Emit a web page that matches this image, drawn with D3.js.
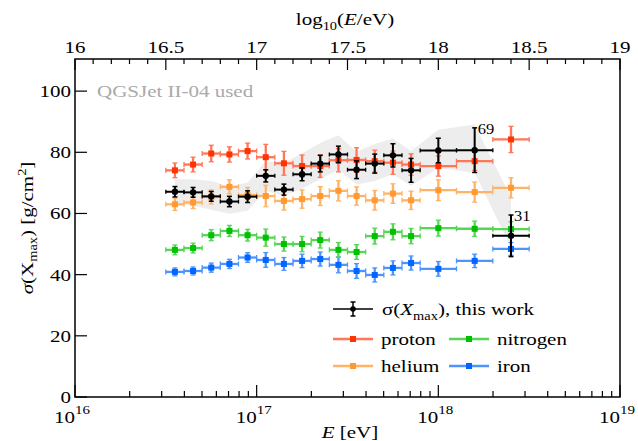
<!DOCTYPE html>
<html>
<head>
<meta charset="utf-8">
<script src="https://cdn.jsdelivr.net/npm/d3@7"></script>
<style>
  html, body { margin: 0; padding: 0; background: #fff; }
  svg text { font-family: "Liberation Serif", "Times New Roman", serif; }
</style>
</head>
<body>
<svg id="chart" width="638" height="441"></svg>
<script>
// ---- energy bins (log10 E/eV) ----
const binLow  = [16.5, 16.6, 16.7, 16.8, 16.9, 17.0, 17.1, 17.2, 17.3, 17.4, 17.5, 17.6, 17.7, 17.8, 17.9, 18.1, 18.3];
const binHigh = [16.6, 16.7, 16.8, 16.9, 17.0, 17.1, 17.2, 17.3, 17.4, 17.5, 17.6, 17.7, 17.8, 17.9, 18.1, 18.3, 18.5];

// ---- measured sigma(Xmax) [g/cm^2] ----
const dataSigma = [67.1, 66.9, 65.6, 63.9, 65.5, 72.3, 67.8, 72.8, 76.3, 79.3, 74.3, 76.3, 79.0, 74.1, 80.6, 80.7, 52.7];
const dataStat  = [1.7, 1.6, 1.6, 1.7, 1.9, 2.0, 1.8, 2.1, 2.7, 2.7, 2.9, 3.1, 3.8, 3.9, 4.0, 7.3, 6.8];
// systematic band edges
const sysUpper  = [71.2, 71.2, 70.6, 68.7, 70.1, 77.1, 76.5, 79.7, 83.0, 85.6, 80.2, 82.7, 84.5, 80.4, 87.4, 89.1, 65.2];
const sysLower  = [63.1, 62.5, 61.2, 59.9, 60.9, 67.4, 65.7, 68.2, 71.2, 74.4, 69.5, 70.6, 72.8, 69.0, 74.9, 73.3, 48.9];
// event counts quoted in the last bins
const countBins   = [15, 16];
const countLabels = ["69", "31"];

// ---- simulated primaries ----
const protonSigma   = [74.1, 76.0, 79.6, 79.3, 80.4, 78.4, 76.4, 75.5, 75.5, 77.4, 77.5, 77.1, 76.6, 76.0, 75.5, 77.1, 84.2];
const protonErr     = [2.4, 2.4, 2.7, 2.5, 2.6, 4.2, 3.9, 3.6, 3.7, 3.8, 4.0, 3.6, 3.8, 3.5, 3.3, 3.0, 4.3];
const heliumSigma   = [63.0, 63.6, 65.4, 68.7, 66.0, 65.7, 64.1, 64.7, 65.7, 67.4, 65.7, 64.3, 66.5, 64.3, 67.6, 67.0, 68.4];
const heliumErr     = [2.0, 2.0, 2.3, 2.3, 2.5, 3.5, 3.0, 3.0, 3.1, 3.3, 3.0, 3.2, 3.2, 3.0, 3.4, 3.3, 3.3];
const nitrogenSigma = [48.1, 48.7, 52.9, 54.3, 52.9, 52.1, 50.0, 50.0, 51.3, 48.1, 47.4, 52.6, 54.0, 52.6, 55.2, 55.0, 54.9];
const nitrogenErr   = [1.6, 1.6, 1.8, 1.8, 1.9, 2.8, 2.3, 2.5, 2.6, 2.4, 2.4, 2.6, 2.6, 2.5, 2.6, 2.5, 2.4];
const ironSigma     = [40.9, 41.2, 42.3, 43.5, 45.6, 44.8, 43.5, 44.5, 45.1, 43.2, 41.2, 39.9, 42.2, 43.8, 41.9, 44.5, 48.4];
const ironErr       = [1.3, 1.3, 1.5, 1.5, 1.6, 2.4, 2.1, 2.2, 2.3, 2.6, 2.4, 2.3, 2.3, 2.3, 2.4, 2.2, 2.1];

// ---- axes ----
const yTicks     = [0, 20, 40, 60, 80, 100];
const topTicks   = [16, 16.5, 17, 17.5, 18, 18.5, 19];
const bottomExps = [16, 17, 18, 19];

const W = 638, H = 441;
const plot = { left: 75, right: 620, top: 59, bottom: 397 };
const svg = d3.select("#chart");

const x = d3.scaleLog().domain([1e16, 1e19]).range([plot.left, plot.right]);
const xTop = d3.scaleLinear().domain([16, 19]).range([plot.left, plot.right]);
const y = d3.scaleLinear().domain([0, 110.5]).range([plot.bottom, plot.top]);

const lgX = v => x(Math.pow(10, v));
const centers = binLow.map((lo, i) => (lo + binHigh[i]) / 2);

// text helper: serif face drawn slightly wide
const SX = 1.2;
function label(parent, px, py, anchor, size, opts = {}) {
  const g = parent.append("g")
    .attr("transform", `translate(${px},${py})` + (opts.rotate ? ` rotate(${opts.rotate})` : "") + ` scale(${SX},1)`);
  const t = g.append("text")
    .attr("text-anchor", anchor)
    .attr("font-size", size)
    .attr("fill", opts.fill || "#000");
  return t;
}

// ---- systematic band ----
const band = d3.area()
  .x((d, i) => lgX(centers[i]))
  .y0((d, i) => y(sysLower[i]))
  .y1((d, i) => y(sysUpper[i]));
svg.append("path")
  .datum(centers)
  .attr("d", band)
  .attr("fill", "#ededed");

// ---- model series with bin-width bars and stat errors ----
function drawModel(vals, errs, marker, light) {
  const g = svg.append("g");
  vals.forEach((v, i) => {
    const cx = lgX(centers[i]), cy = y(v);
    const x0 = lgX(binLow[i]), x1 = lgX(binHigh[i]);
    const yt = y(v + errs[i]), yb = y(v - errs[i]);
    g.append("line").attr("x1", x0).attr("x2", x1).attr("y1", cy).attr("y2", cy)
      .attr("stroke", light).attr("stroke-width", 2.3);
    [x0, x1].forEach(xx => g.append("line").attr("x1", xx).attr("x2", xx)
      .attr("y1", cy - 2.5).attr("y2", cy + 2.5).attr("stroke", light).attr("stroke-width", 1.3));
    g.append("line").attr("x1", cx).attr("x2", cx).attr("y1", yt).attr("y2", yb)
      .attr("stroke", light).attr("stroke-width", 2.3);
    [yt, yb].forEach(yy => g.append("line").attr("x1", cx - 2.5).attr("x2", cx + 2.5)
      .attr("y1", yy).attr("y2", yy).attr("stroke", light).attr("stroke-width", 1.3));
    g.append("rect").attr("x", cx - 3).attr("y", cy - 3).attr("width", 6).attr("height", 6)
      .attr("fill", marker);
  });
}

const models = [
  { name: "proton",   vals: protonSigma,   errs: protonErr,   marker: "#ff3300", light: "#ff7758" },
  { name: "helium",   vals: heliumSigma,   errs: heliumErr,   marker: "#ff9933", light: "#ffb366" },
  { name: "nitrogen", vals: nitrogenSigma, errs: nitrogenErr, marker: "#00c000", light: "#55d655" },
  { name: "iron",     vals: ironSigma,     errs: ironErr,     marker: "#0066ff", light: "#4d94ff" }
];
[models[3], models[2], models[1], models[0]].forEach(m => drawModel(m.vals, m.errs, m.marker, m.light));

// ---- measured points ----
const gd = svg.append("g");
dataSigma.forEach((v, i) => {
  const cx = lgX(centers[i]), cy = y(v);
  const x0 = lgX(binLow[i]), x1 = lgX(binHigh[i]);
  const yt = y(v + dataStat[i]), yb = y(v - dataStat[i]);
  gd.append("line").attr("x1", x0).attr("x2", x1).attr("y1", cy).attr("y2", cy)
    .attr("stroke", "#000").attr("stroke-width", 2);
  [x0, x1].forEach(xx => gd.append("line").attr("x1", xx).attr("x2", xx)
    .attr("y1", cy - 2).attr("y2", cy + 2).attr("stroke", "#000").attr("stroke-width", 1.3));
  gd.append("line").attr("x1", cx).attr("x2", cx).attr("y1", yt).attr("y2", yb)
    .attr("stroke", "#000").attr("stroke-width", 2);
  [yt, yb].forEach(yy => gd.append("line").attr("x1", cx - 2.5).attr("x2", cx + 2.5)
    .attr("y1", yy).attr("y2", yy).attr("stroke", "#000").attr("stroke-width", 1.5));
  gd.append("circle").attr("cx", cx).attr("cy", cy).attr("r", 3.2).attr("fill", "#000");
});
countBins.forEach((b, k) => {
  const cx = lgX(centers[b]);
  const yt = y(dataSigma[b] + dataStat[b]);
  svg.append("text").attr("x", cx + 3).attr("y", yt + 6.5)
    .attr("font-size", 15).attr("text-anchor", "start")
    .attr("transform", `translate(${(cx + 3) * (1 - 1.1)},0) scale(1.1,1)`)
    .text(countLabels[k]);
});

// ---- frame ----
const axisG = svg.append("g").attr("stroke", "#000").attr("fill", "none");
axisG.append("rect")
  .attr("x", plot.left).attr("y", plot.top)
  .attr("width", plot.right - plot.left).attr("height", plot.bottom - plot.top)
  .attr("stroke-width", 1.5);

// left ticks
yTicks.forEach(t => {
  axisG.append("line").attr("x1", plot.left).attr("x2", plot.left + 12)
    .attr("y1", y(t)).attr("y2", y(t)).attr("stroke-width", 1.2);
  label(svg, plot.left - 4, y(t) + 6, "end", 17.5).text(t);
});

// bottom ticks: decades and minor multiples
bottomExps.forEach((e, k) => {
  axisG.append("line").attr("x1", x(10 ** e)).attr("x2", x(10 ** e))
    .attr("y1", plot.bottom).attr("y2", plot.bottom - 12).attr("stroke-width", 1.2);
  if (k < bottomExps.length - 1) {
    for (let m = 2; m <= 9; m++) {
      const xx = x(m * 10 ** e);
      axisG.append("line").attr("x1", xx).attr("x2", xx)
        .attr("y1", plot.bottom).attr("y2", plot.bottom - 6).attr("stroke-width", 1.2);
    }
  }
  const tx = x(10 ** e);
  label(svg, tx, 423, "end", 17.5).text("10");
  label(svg, tx, 414, "start", 12.5).text(e);
});

// top ticks (log10 E)
for (let v = 16; v <= 19.0001; v += 0.1) {
  const vv = Math.round(v * 10) / 10;
  const major = Math.abs(vv * 2 - Math.round(vv * 2)) < 1e-6;
  axisG.append("line").attr("x1", xTop(vv)).attr("x2", xTop(vv))
    .attr("y1", plot.top).attr("y2", plot.top + (major ? 11 : 5)).attr("stroke-width", 1.2);
}
topTicks.forEach(t => {
  label(svg, xTop(t), 53, "middle", 17.5).text(t);
});

// axis titles
const tTop = label(svg, 345, 25, "middle", 17.5);
tTop.append("tspan").text("log");
tTop.append("tspan").attr("font-size", 12).attr("dy", 5).text("10");
tTop.append("tspan").attr("dy", -5).text("(");
tTop.append("tspan").attr("font-style", "italic").text("E");
tTop.append("tspan").text("/eV)");

const tBot = label(svg, 350, 438, "middle", 17.5);
tBot.append("tspan").attr("font-style", "italic").text("E");
tBot.append("tspan").text(" [eV]");

const tY = label(svg, 33, 228, "middle", 17.5, { rotate: -90 });
tY.append("tspan").attr("font-style", "italic").text("σ");
tY.append("tspan").text("(X");
tY.append("tspan").attr("font-size", 12).attr("dy", 4).text("max");
tY.append("tspan").attr("dy", -4).text(") [g/cm");
tY.append("tspan").attr("font-size", 12).attr("dy", -7).text("2");
tY.append("tspan").attr("dy", 7).text("]");

// model tag
label(svg, 97, 97, "start", 17.5, { fill: "#aaaaaa" }).text("QGSJet II-04 used");

// ---- legend ----
const lg = svg.append("g");
(function () {
  const yy = 309, xa = 333, xb = 373, xc = (xa + xb) / 2;
  lg.append("line").attr("x1", xa).attr("x2", xb).attr("y1", yy).attr("y2", yy)
    .attr("stroke", "#000").attr("stroke-width", 1.5);
  lg.append("line").attr("x1", xc).attr("x2", xc).attr("y1", yy - 7).attr("y2", yy + 7)
    .attr("stroke", "#000").attr("stroke-width", 1.5);
  [yy - 7, yy + 7].forEach(v => lg.append("line").attr("x1", xc - 2.5).attr("x2", xc + 2.5)
    .attr("y1", v).attr("y2", v).attr("stroke", "#000").attr("stroke-width", 1.5));
  lg.append("circle").attr("cx", xc).attr("cy", yy).attr("r", 2.8).attr("fill", "#000");
  const t = label(lg, 382, yy + 6, "start", 17.5);
  t.append("tspan").text("σ(");
  t.append("tspan").attr("font-style", "italic").text("X");
  t.append("tspan").attr("font-size", 12).attr("dy", 5).text("max");
  t.append("tspan").attr("dy", -5).text("), this work");
})();
const legendSlots = [
  { m: models[0], x: 333, y: 339 },
  { m: models[2], x: 449, y: 339 },
  { m: models[1], x: 333, y: 366 },
  { m: models[3], x: 449, y: 366 }
];
legendSlots.forEach(s => {
  lg.append("line").attr("x1", s.x).attr("x2", s.x + 40).attr("y1", s.y).attr("y2", s.y)
    .attr("stroke", s.m.light).attr("stroke-width", 2.3);
  lg.append("rect").attr("x", s.x + 17).attr("y", s.y - 3).attr("width", 6).attr("height", 6)
    .attr("fill", s.m.marker);
  label(lg, s.x + 48, s.y + 6, "start", 17.5).text(s.m.name);
});
</script>
</body>
</html>
